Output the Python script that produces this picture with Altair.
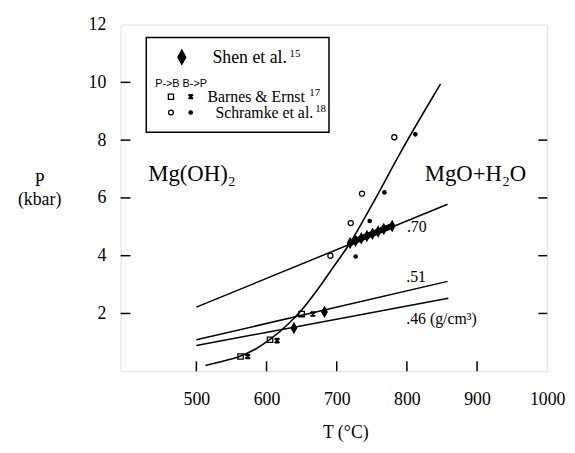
import altair as alt
import pandas as pd

# ---- data ----
curve_T = [513, 540, 563, 585, 605, 632, 650, 673, 695, 719, 750, 792, 820, 848]
curve_P = [0.2, 0.36, 0.53, 0.78, 1.1, 1.66, 2.12, 2.84, 3.6, 4.44, 5.75, 7.62, 8.8, 9.95]

iso_names = [".70", ".70", ".51", ".51", ".46", ".46"]
iso_T = [500, 858, 500, 858, 500, 859]
iso_P = [2.22, 5.78, 1.09, 3.11, 0.89, 2.53]

iso_label_text = [".70", ".51", ".46 (g/cm³)"]
iso_label_T = [800, 799, 799]
iso_label_P = [5.0, 3.25, 1.81]

shen_T = [639, 682.5, 719, 727, 735, 743, 751, 759, 767, 779]
shen_P = [1.5, 2.05, 4.44, 4.52, 4.6, 4.68, 4.76, 4.84, 4.92, 5.03]

barnes_PB_T = [563, 605, 650]
barnes_PB_P = [0.51, 1.09, 1.98]
barnes_BP_T = [573, 615, 666]
barnes_BP_P = [0.51, 1.06, 1.98]

schramke_PB_T = [691, 720, 736, 782]
schramke_PB_P = [4.0, 5.13, 6.15, 8.1]
schramke_BP_T = [727, 747, 768, 812]
schramke_BP_P = [3.97, 5.2, 6.19, 8.2]

x_tick_vals = [500, 600, 700, 800, 900, 1000]
y_tick_vals = [2, 4, 6, 8, 10, 12]
x_inner_ticks = [500, 600, 700, 800, 900]
y_inner_ticks_left = [2, 4, 6, 8, 10]
y_inner_ticks_right = [2, 4, 6, 8]

SERIF = "Liberation Serif"
W, H = 432, 351

xs = alt.Scale(domain=[392, 1000], nice=False, zero=False)
ys = alt.Scale(domain=[0, 12], nice=False, zero=False)

X = alt.X("T:Q", scale=xs,
          axis=alt.Axis(values=x_tick_vals, format="d", ticks=False, domain=False, grid=False,
                        labelFont=SERIF, labelFontSize=18, labelColor="black",
                        labelFlush=False, labelOverlap=False,
                        labelPadding=20, title=None))
Y = alt.Y("P:Q", scale=ys,
          axis=alt.Axis(values=y_tick_vals, format="d", ticks=False, domain=False, grid=False,
                        labelFont=SERIF, labelFontSize=18, labelColor="black",
                        labelFlush=False, labelOverlap=False,
                        labelPadding=15, title=None))

SHEN_PATH = "M0,-1L0.55,0L0,1L-0.55,0Z"
STAR_PATH = "M-1,-1L1,1M1,-1L-1,1M0,-1.2L0,1.2"

curve = alt.Chart(pd.DataFrame({"T": curve_T, "P": curve_P})).mark_line(
    color="black", strokeWidth=1.6, interpolate="monotone").encode(x=X, y=Y)

iso = alt.Chart(pd.DataFrame({"T": iso_T, "P": iso_P, "n": iso_names})).mark_line(
    color="black", strokeWidth=1.5).encode(x=X, y=Y, detail="n:N")

iso_lab = alt.Chart(pd.DataFrame({"T": iso_label_T, "P": iso_label_P, "t": iso_label_text})).mark_text(
    font=SERIF, fontSize=16, align="left", baseline="middle", color="black").encode(
    x=alt.X("T:Q", scale=xs), y=alt.Y("P:Q", scale=ys), text="t:N")

shen_band = alt.Chart(pd.DataFrame({"T": shen_T[2:], "P": shen_P[2:]})).mark_line(
    color="black", strokeWidth=6).encode(x=X, y=Y)

shen = alt.Chart(pd.DataFrame({"T": shen_T, "P": shen_P})).mark_point(
    shape=SHEN_PATH, size=160, filled=True, color="black", opacity=1).encode(x=X, y=Y)

b_pb = alt.Chart(pd.DataFrame({"T": barnes_PB_T, "P": barnes_PB_P})).mark_point(
    shape="square", size=30, filled=False, color="black", strokeWidth=1.3, opacity=1).encode(x=X, y=Y)
b_bp = alt.Chart(pd.DataFrame({"T": barnes_BP_T, "P": barnes_BP_P})).mark_point(
    shape=STAR_PATH, size=22, filled=False, color="black", strokeWidth=2, opacity=1).encode(x=X, y=Y)
s_pb = alt.Chart(pd.DataFrame({"T": schramke_PB_T, "P": schramke_PB_P})).mark_point(
    shape="circle", size=26, filled=False, color="black", strokeWidth=1.3, opacity=1).encode(x=X, y=Y)
s_bp = alt.Chart(pd.DataFrame({"T": schramke_BP_T, "P": schramke_BP_P})).mark_point(
    shape="circle", size=22, filled=True, color="black", opacity=1).encode(x=X, y=Y)

# inward ticks
tick_left = alt.Chart(pd.DataFrame({"P": y_inner_ticks_left})).mark_rule(
    color="black", strokeWidth=1.5).encode(y=alt.Y("P:Q", scale=ys), x=alt.value(0), x2=alt.value(10))
tick_right = alt.Chart(pd.DataFrame({"P": y_inner_ticks_right})).mark_rule(
    color="black", strokeWidth=1.5).encode(y=alt.Y("P:Q", scale=ys), x=alt.value(W), x2=alt.value(W - 9))
tick_bottom = alt.Chart(pd.DataFrame({"T": x_inner_ticks})).mark_rule(
    color="black", strokeWidth=1.5).encode(x=alt.X("T:Q", scale=xs), y=alt.value(H), y2=alt.value(H - 10))

one = pd.DataFrame({"a": [0]})


def txt(s, x, y, size, font=SERIF, align="left", baseline="alphabetic"):
    return alt.Chart(one).mark_text(text=s, font=font, fontSize=size, align=align,
                                    baseline=baseline, color="black").encode(
        x=alt.value(x), y=alt.value(y))


def sym(shape, x, y, size, filled, sw=1.3):
    return alt.Chart(one).mark_point(shape=shape, size=size, filled=filled, color="black",
                                     strokeWidth=sw, opacity=1).encode(
        x=alt.value(x), y=alt.value(y))


legend_box = alt.Chart(one).mark_rect(fill="white", stroke="black", strokeWidth=1.5).encode(
    x=alt.value(26), x2=alt.value(211), y=alt.value(13), y2=alt.value(109))

layers = [
    curve, iso, iso_lab, shen_band, shen, b_pb, b_bp, s_pb, s_bp,
    tick_left, tick_right, tick_bottom,
    legend_box,
    sym(SHEN_PATH, 62, 33, 300, True),
    txt("Shen et al.", 93, 39, 18),
    txt("15", 171, 33, 11),
    txt("P->B B->P", 35, 63, 11, font="Liberation Sans"),
    sym("square", 51, 73, 28, False),
    sym(STAR_PATH, 71, 73, 20, False, 2),
    txt("Barnes & Ernst", 88, 78, 16),
    txt("17", 191, 72, 11),
    sym("circle", 51, 89, 24, False),
    sym("circle", 71, 89, 22, True),
    txt("Schramke et al.", 96, 95, 16),
    txt("18", 197, 89, 11),
    txt("Mg(OH)₂", 28, 158, 23),
    txt("MgO+H₂O", 308, 158, 23),
    txt("P", -82, 158, 18, align="center", baseline="middle"),
    txt("(kbar)", -82, 178, 18, align="center", baseline="middle"),
    txt("T (°C)", 228, 414, 18, align="center", baseline="middle"),
]

chart = alt.layer(*layers).properties(
    width=W, height=H,
    autosize=alt.AutoSizeParams(type="none"),
    padding={"left": 114, "top": 14, "right": 20, "bottom": 80},
).configure_view(stroke="black", strokeWidth=1.5).configure(background="white")

chart.save("out.html", embed_options={"renderer": "svg", "actions": False})
